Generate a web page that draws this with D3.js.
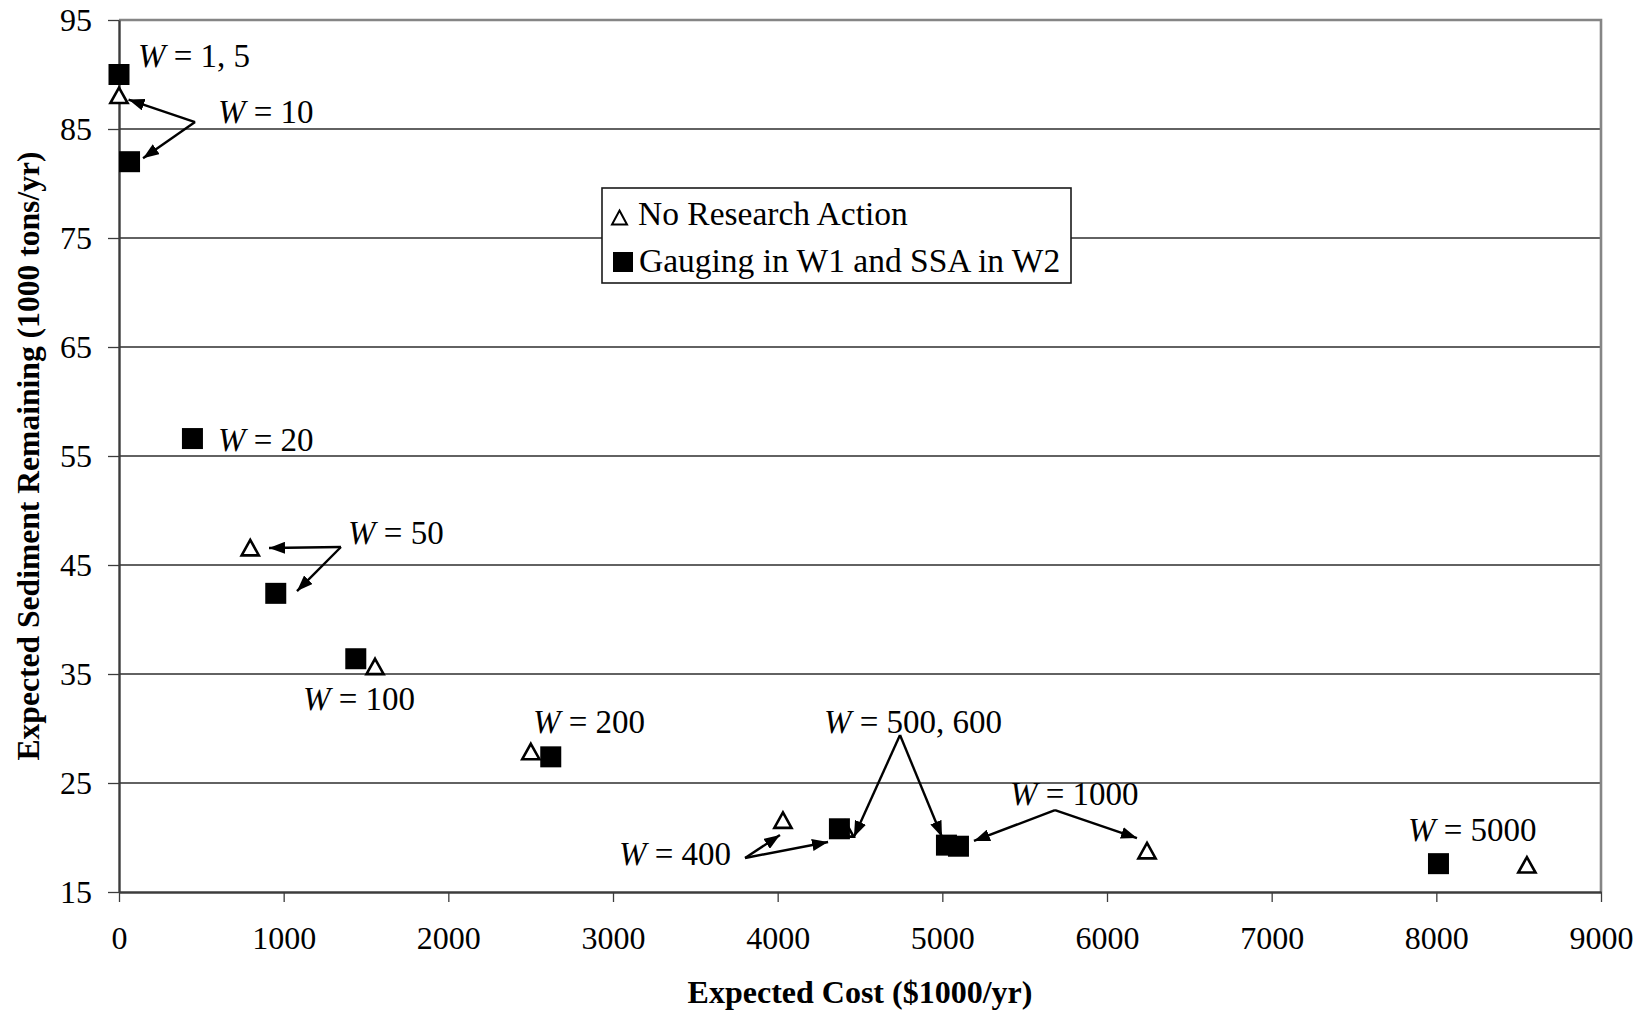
<!DOCTYPE html>
<html>
<head>
<meta charset="utf-8">
<script src="https://cdn.jsdelivr.net/npm/d3@7"></script>
<style>
  html, body { margin: 0; padding: 0; background: #fff; }
  svg { display: block; }
  text { font-family: "Times New Roman", "Liberation Serif", serif; fill: #000; }
</style>
</head>
<body>
<svg id="chart" width="1648" height="1015"></svg>
<script>
// Expected cost ($1000/yr) and expected sediment remaining (1000 tons/yr)
const noResearchCost      = [0, 797, 1555, 2501, 4032, 4409, 6243, 8550];
const noResearchSediment  = [88.1, 46.6, 35.7, 27.9, 21.6, 20.8, 18.8, 17.5];
const gaugingCost         = [0, 64, 446, 952, 1438, 2622, 4375, 5025, 5098, 8013];
const gaugingSediment     = [90.0, 82.0, 56.6, 42.4, 36.4, 27.4, 20.8, 19.3, 19.2, 17.6];

const xTicks = [0, 1000, 2000, 3000, 4000, 5000, 6000, 7000, 8000, 9000];
const yTicks = [15, 25, 35, 45, 55, 65, 75, 85, 95];

const seriesNames = ["No Research Action", "Gauging in W1 and SSA in W2"];

// Weight labels, anchored in data units (cost, sediment)
const labelText   = ["1, 5", "10", "20", "50", "100", "200", "500, 600", "400", "1000", "5000"];
const labelCost   = [115, 601, 601, 1391, 1117, 2514, 4281, 3036, 5411, 7828];
const labelSed    = [90.69, 85.55, 55.46, 46.93, 31.70, 29.59, 29.59, 17.48, 22.98, 19.68];

// Leader arrows, start and tip in data units
const arrowFromCost = [462, 462, 1348, 1348, 3802, 3802, 4743, 4743, 5684, 5684];
const arrowFromSed  = [85.64, 85.64, 46.65, 46.65, 18.12, 18.12, 29.40, 29.40, 22.52, 22.52];
const arrowToCost   = [58, 146, 911, 1081, 4014, 4306, 4463, 4998, 5192, 6182];
const arrowToSed    = [87.7, 82.32, 46.56, 42.61, 20.23, 19.59, 20.05, 20.05, 19.68, 19.95];

const svg = d3.select("#chart");
const plotL = 119, plotR = 1601, plotT = 20, plotB = 892;

const x = d3.scaleLinear().domain([0, 9000]).range([plotL, plotR]);
const y = d3.scaleLinear().domain([15, 95]).range([plotB, plotT]);

// horizontal gridlines
svg.append("g")
  .selectAll("line")
  .data(yTicks.filter(v => v > 15 && v < 95))
  .join("line")
  .attr("x1", plotL).attr("x2", plotR)
  .attr("y1", d => y(d)).attr("y2", d => y(d))
  .attr("stroke", "#2e2e2e").attr("stroke-width", 1.3);

// plot area border (top and right)
svg.append("path")
  .attr("d", `M${plotL},${plotT}H${plotR}V${plotB}`)
  .attr("fill", "none").attr("stroke", "#858585").attr("stroke-width", 2.6);

// axes
const yAxis = svg.append("g")
  .attr("transform", `translate(${plotL},0)`)
  .call(d3.axisLeft(y).tickValues(yTicks).tickSize(11).tickSizeOuter(0).tickPadding(16).tickFormat(d3.format("d")));
const xAxis = svg.append("g")
  .attr("transform", `translate(0,${plotB})`)
  .call(d3.axisBottom(x).tickValues(xTicks).tickSize(10).tickSizeOuter(0).tickPadding(24).tickFormat(d3.format("d")));

[xAxis, yAxis].forEach(g => {
  g.select(".domain").attr("stroke", "#3c3c3c").attr("stroke-width", 2.4);
  g.selectAll(".tick line").attr("stroke", "#3c3c3c").attr("stroke-width", 1.3);
  g.selectAll(".tick text")
    .attr("font-family", "'Times New Roman', 'Liberation Serif', serif")
    .attr("font-size", 32).attr("fill", "#000");
});
yAxis.selectAll(".tick text").attr("dy", "0.34em");

// axis titles
svg.append("text")
  .attr("x", (plotL + plotR) / 2).attr("y", 1003)
  .attr("text-anchor", "middle")
  .attr("font-size", 32).attr("font-weight", "bold")
  .text("Expected Cost ($1000/yr)");
svg.append("text")
  .attr("transform", `translate(39,${(plotT + plotB) / 2}) rotate(-90)`)
  .attr("text-anchor", "middle")
  .attr("font-size", 31.6).attr("font-weight", "bold")
  .text("Expected Sediment Remaining (1000 tons/yr)");

// markers
const triPath = "M0,-7.6L8.6,7.8L-8.6,7.8Z";
svg.append("g")
  .selectAll("path")
  .data(noResearchCost.map((c, i) => [c, noResearchSediment[i]]))
  .join("path")
  .attr("d", triPath)
  .attr("transform", d => `translate(${x(d[0])},${y(d[1])})`)
  .attr("fill", "#fff").attr("stroke", "#000").attr("stroke-width", 2.6);

const sq = 21;
svg.append("g")
  .selectAll("rect")
  .data(gaugingCost.map((c, i) => [c, gaugingSediment[i]]))
  .join("rect")
  .attr("x", d => x(d[0]) - sq / 2).attr("y", d => y(d[1]) - sq / 2)
  .attr("width", sq).attr("height", sq)
  .attr("fill", "#000");

// arrowhead
svg.append("defs").append("marker")
  .attr("id", "head")
  .attr("viewBox", "0 0 16 12")
  .attr("refX", 16).attr("refY", 6)
  .attr("markerWidth", 16).attr("markerHeight", 12)
  .attr("markerUnits", "userSpaceOnUse")
  .attr("orient", "auto")
  .append("path").attr("d", "M0,0L16,6L0,12Z").attr("fill", "#000");

svg.append("g")
  .selectAll("line")
  .data(arrowFromCost.map((c, i) => i))
  .join("line")
  .attr("x1", i => x(arrowFromCost[i])).attr("y1", i => y(arrowFromSed[i]))
  .attr("x2", i => x(arrowToCost[i])).attr("y2", i => y(arrowToSed[i]))
  .attr("stroke", "#000").attr("stroke-width", 2.4)
  .attr("marker-end", "url(#head)");

// weight labels
const lbl = svg.append("g")
  .selectAll("text")
  .data(labelText.map((t, i) => i))
  .join("text")
  .attr("x", i => x(labelCost[i])).attr("y", i => y(labelSed[i]))
  .attr("font-size", 33);
lbl.append("tspan").attr("font-style", "italic").text("W");
lbl.append("tspan").text(i => " = " + labelText[i]);

// legend
const lg = svg.append("g");
lg.append("rect")
  .attr("x", 602).attr("y", 188).attr("width", 469).attr("height", 95)
  .attr("fill", "#fff").attr("stroke", "#1a1a1a").attr("stroke-width", 1.6);
lg.append("path")
  .attr("d", "M619.5,210.5L627,224.5L612,224.5Z")
  .attr("fill", "#fff").attr("stroke", "#000").attr("stroke-width", 2);
lg.append("rect")
  .attr("x", 613).attr("y", 252).attr("width", 20).attr("height", 20)
  .attr("fill", "#000");
lg.append("text").attr("x", 638).attr("y", 225).attr("font-size", 33.5).text(seriesNames[0]);
lg.append("text").attr("x", 639).attr("y", 272).attr("font-size", 33.5).text(seriesNames[1]);
</script>
</body>
</html>
